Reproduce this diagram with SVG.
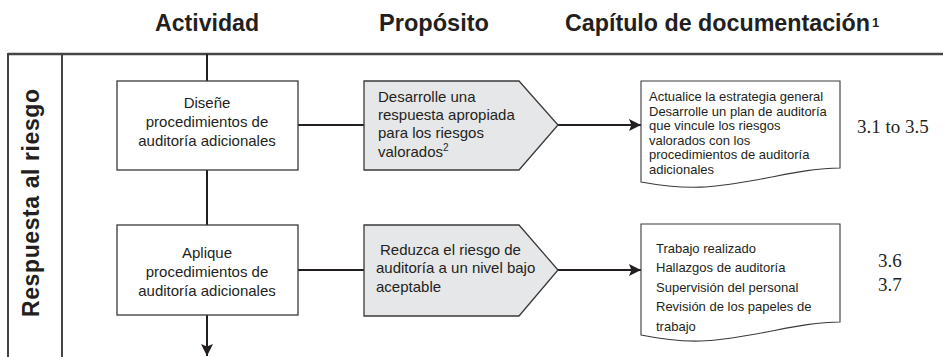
<svg xmlns="http://www.w3.org/2000/svg" width="943" height="357" viewBox="0 0 943 357">
<defs>
<style>
.hdr{font-family:"Liberation Sans",Arial,sans-serif;font-weight:bold;font-size:23px;fill:#231f20}
.sup{font-family:"Liberation Sans",Arial,sans-serif;font-weight:bold;font-size:13px;fill:#231f20}
.box{fill:#fff;stroke:#3a3a3a;stroke-width:1.3}
.pent{fill:#e6e7e9;stroke:#3a3a3a;stroke-width:1.3}
.doc{fill:#fff;stroke:#3a3a3a;stroke-width:1.1}
.t15{font-family:"Liberation Sans",Arial,sans-serif;font-size:15px;fill:#231f20}
.t13{font-family:"Liberation Sans",Arial,sans-serif;font-size:13px;fill:#231f20}
.num{font-family:"Liberation Serif","Times New Roman",serif;font-size:19px;fill:#231f20}
.c{text-anchor:middle}
.ln{stroke:#231f20;stroke-width:2;fill:none}
.frame{stroke:#444;fill:none}
</style>
<marker id="ah" viewBox="0 0 10 10" refX="10" refY="5" markerWidth="6" markerHeight="6" orient="auto" markerUnits="strokeWidth">
<path d="M0,0 L10,5 L0,10 L2,5 z" fill="#231f20"/>
</marker>
</defs>
<rect width="943" height="357" fill="#fff"/>

<g id="headers">
<text class="hdr" x="155" y="31" textLength="104" lengthAdjust="spacingAndGlyphs">Actividad</text>
<text class="hdr" x="379" y="31" textLength="110" lengthAdjust="spacingAndGlyphs">Propósito</text>
<text class="hdr" x="565" y="31" textLength="305" lengthAdjust="spacingAndGlyphs">Capítulo de documentación</text>
<text class="sup" x="872" y="27">1</text>
</g>

<g id="frame">
<line class="frame" x1="8" y1="54" x2="943" y2="54" stroke-width="2.5"/>
<line class="frame" x1="8" y1="53" x2="8" y2="357" stroke-width="2"/>
<line class="frame" x1="62" y1="53" x2="62" y2="357" stroke-width="2"/>
<text class="hdr" text-anchor="middle" transform="translate(39,203) rotate(-90)" textLength="228" lengthAdjust="spacing">Respuesta al riesgo</text>
</g>

<g id="connectors">
<line class="ln" x1="207" y1="54" x2="207" y2="81"/>
<line class="ln" x1="207" y1="170" x2="207" y2="225"/>
<line class="ln" x1="207" y1="315" x2="207" y2="356" marker-end="url(#ah)"/>
<line class="ln" x1="297" y1="125" x2="364" y2="125"/>
<line class="ln" x1="558" y1="125" x2="641" y2="125" marker-end="url(#ah)"/>
<line class="ln" x1="297" y1="270" x2="364" y2="270"/>
<line class="ln" x1="558" y1="270" x2="641" y2="270" marker-end="url(#ah)"/>
</g>

<g id="act1">
<rect class="box" x="117" y="81" width="181" height="89"/>
<text class="t15 c" x="207" y="108">Diseñe</text>
<text class="t15 c" x="207" y="127">procedimientos de</text>
<text class="t15 c" x="207" y="146">auditoría adicionales</text>
</g>

<g id="act2">
<rect class="box" x="117" y="225" width="181" height="90"/>
<text class="t15 c" x="207" y="258">Aplique</text>
<text class="t15 c" x="207" y="277">procedimientos de</text>
<text class="t15 c" x="207" y="296">auditoría adicionales</text>
</g>

<g id="prop1">
<path class="pent" d="M364,81 H519 L558,125 L519,170 H364 Z"/>
<text class="t15" x="378" y="102">Desarrolle una</text>
<text class="t15" x="378" y="120">respuesta apropiada</text>
<text class="t15" x="378" y="138">para los riesgos</text>
<text class="t15" x="378" y="157">valorados<tspan style="font-size:10px" dy="-6">2</tspan></text>
</g>

<g id="prop2">
<path class="pent" d="M364,225 H519 L558,270 L519,316 H364 Z"/>
<text class="t15" x="380" y="255">Reduzca el riesgo de</text>
<text class="t15" x="376" y="273">auditoría a un nivel bajo</text>
<text class="t15" x="376" y="292">aceptable</text>
</g>

<g id="doc1">
<path class="doc" d="M641,81 H840 V168 C810,168 780,176 750,181 C715,187 690,191 641,182 Z"/>
<text class="t13" x="649" y="101">Actualice la estrategia general</text>
<text class="t13" x="649" y="115.5">Desarrolle un plan de auditoría</text>
<text class="t13" x="649" y="130">que vincule los riesgos</text>
<text class="t13" x="649" y="144.5">valorados con los</text>
<text class="t13" x="649" y="159">procedimientos de auditoría</text>
<text class="t13" x="649" y="174">adicionales</text>
<text class="num" x="857" y="133">3.1 to 3.5</text>
</g>

<g id="doc2">
<path class="doc" d="M641,224 H840 V322 C810,322 780,330 750,335 C715,341 690,345 641,335 Z"/>
<text class="t13" x="656" y="252.5">Trabajo realizado</text>
<text class="t13" x="656" y="272">Hallazgos de auditoría</text>
<text class="t13" x="656" y="291.5">Supervisión del personal</text>
<text class="t13" x="656" y="311">Revisión de los papeles de</text>
<text class="t13" x="656" y="330.5">trabajo</text>
<text class="num" x="878" y="267">3.6</text>
<text class="num" x="878" y="291">3.7</text>
</g>
</svg>
